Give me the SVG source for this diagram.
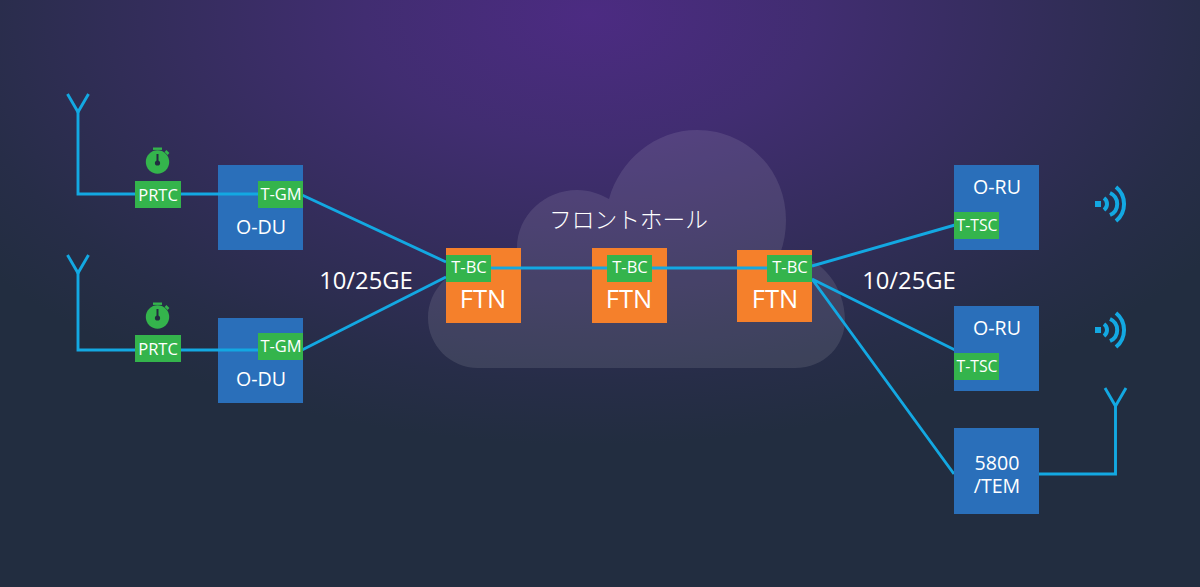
<svg xmlns="http://www.w3.org/2000/svg" width="1200" height="587" viewBox="0 0 1200 587">
<style>
text{font-family:"Open Sans","Noto Sans","Noto Sans CJK JP",sans-serif;fill:#fff;text-anchor:middle}
.blue{fill:#2a6fba}.orange{fill:#f5802b}.green{fill:#34b44c}
.t14{font-size:16.5px}.t15{font-size:15.8px}.t18{font-size:19.6px}.t22{font-size:23.8px}.t24{font-size:25.500px}
.jp{font-family:"Noto Sans CJK JP","Noto Sans",sans-serif;font-size:22.7px;font-weight:300}
.ln{fill:none;stroke:#13a8e2;stroke-width:2.9}
</style>
<defs>
<radialGradient id="bg" gradientUnits="userSpaceOnUse" cx="0" cy="0" r="1" gradientTransform="translate(590 15) scale(750 430)">
<stop offset="0" stop-color="#4c2b82"/><stop offset=".3" stop-color="#412d71"/><stop offset=".6" stop-color="#332d5a"/><stop offset=".85" stop-color="#272d48"/><stop offset="1" stop-color="#222d40"/>
</radialGradient>
<g id="ant"><path class="ln" d="M-10.5 -13L0 5L10.5 -13"/></g>
<g id="watch"><circle cx="0" cy="3" r="11.7" fill="#34b44c"/><rect x="-4.5" y="-11.5" width="9" height="2.4" fill="#34b44c"/><path d="M8 -8L11 -5" stroke="#34b44c" stroke-width="2.5"/><rect x="-1" y="-5" width="2" height="8" fill="#222d40"/><circle cx="0" cy="4" r="2.6" fill="#222d40"/></g>
<g id="wifi"><rect x="-18" y="-3" width="6" height="6" fill="#13a8e2"/><path d="M-9 -6A7.5 7.5 0 0 1 -9 6M-3 -11A12 12 0 0 1 -3 11M3 -17A22 22 0 0 1 3 17" fill="none" stroke="#13a8e2" stroke-width="4"/></g>
</defs>
<rect width="1200" height="587" fill="#222d40"/>
<rect width="1200" height="587" fill="url(#bg)"/>
<path id="cloud" fill="#fff" fill-opacity=".1" d="M478 368C450 368 428 345 428 318C428 290 450 268 478 264L517 248C517 215 545 190 577 190C590 190 600 194 609 199C620 160 655 130 697 130C747 130 786 170 786 220C786 232 784 243 780 254C815 250 845 282 845 320C845 345 825 368 795 368Z"/>
<g id="connectors">
<path class="ln" d="M78 112V194H136M180 194H260"/>
<path class="ln" d="M78 273V350H136M180 350H260"/>
<path class="ln" d="M302 195L446 262M302 350L446 277"/>
<path class="ln" d="M490 268H770"/>
<path class="ln" d="M812 266L955 225M812 279L955 350M812 279L954 474"/>
<path class="ln" d="M1039 474H1115.500V405"/>
<use href="#ant" x="78" y="107"/><use href="#ant" x="78" y="268"/><use href="#ant" x="1115.500" y="401"/>
</g>
<g id="prtc1"><use href="#watch" x="157.500" y="159"/><rect class="green" x="135" y="181" width="46" height="27"/><text class="t14" x="158" y="200.500">PRTC</text></g>
<g id="prtc2"><use href="#watch" x="157.500" y="314"/><rect class="green" x="135" y="335" width="46" height="27"/><text class="t14" x="158" y="354.500">PRTC</text></g>
<g id="odu1"><rect class="blue" x="218" y="165" width="85" height="85"/><path class="ln" d="M218 194H260"/><rect class="green" x="258" y="181" width="45" height="27"/><text class="t14" x="281" y="200">T-GM</text><text class="t18" x="261" y="234">O-DU</text></g>
<g id="odu2"><rect class="blue" x="218" y="318" width="85" height="85"/><path class="ln" d="M218 350H260"/><rect class="green" x="258" y="333" width="45" height="27"/><text class="t14" x="281" y="352">T-GM</text><text class="t18" x="261" y="386">O-DU</text></g>
<g id="ftn1"><rect class="orange" x="446" y="248" width="75" height="75"/><path class="ln" d="M490 268H521"/><rect class="green" x="446" y="255" width="45" height="27"/><text class="t14" x="469" y="273">T-BC</text><text class="t24" x="483" y="308">FTN</text></g>
<g id="ftn2"><rect class="orange" x="592" y="248" width="75" height="75"/><path class="ln" d="M592 268H667"/><rect class="green" x="607" y="255" width="45" height="27"/><text class="t14" x="630" y="273">T-BC</text><text class="t24" x="629" y="308">FTN</text></g>
<g id="ftn3"><rect class="orange" x="737" y="250" width="75" height="72"/><path class="ln" d="M737 268H770"/><rect class="green" x="767" y="255" width="45" height="27"/><text class="t14" x="790" y="273">T-BC</text><text class="t24" x="775" y="308">FTN</text></g>
<g id="oru1"><rect class="blue" x="954" y="165" width="85" height="85"/><rect class="green" x="954" y="212" width="45" height="27"/><text class="t15" x="977" y="231">T-TSC</text><text class="t18" x="997" y="194">O-RU</text></g>
<g id="oru2"><rect class="blue" x="954" y="306" width="85" height="85"/><rect class="green" x="954" y="353" width="45" height="27"/><text class="t15" x="977" y="372">T-TSC</text><text class="t18" x="997" y="335">O-RU</text></g>
<g id="tem"><rect class="blue" x="954" y="428" width="85" height="86"/><text class="t18"><tspan x="997" y="469.500">5800</tspan><tspan x="997" y="492.500">/TEM</tspan></text></g>
<use href="#wifi" x="1113" y="204"/><use href="#wifi" x="1113" y="330"/>
<text class="t22" x="366" y="289">10/25GE</text>
<text class="t22" x="909" y="289">10/25GE</text>
<text class="jp" x="628.500" y="228">フロントホール</text>
</svg>
